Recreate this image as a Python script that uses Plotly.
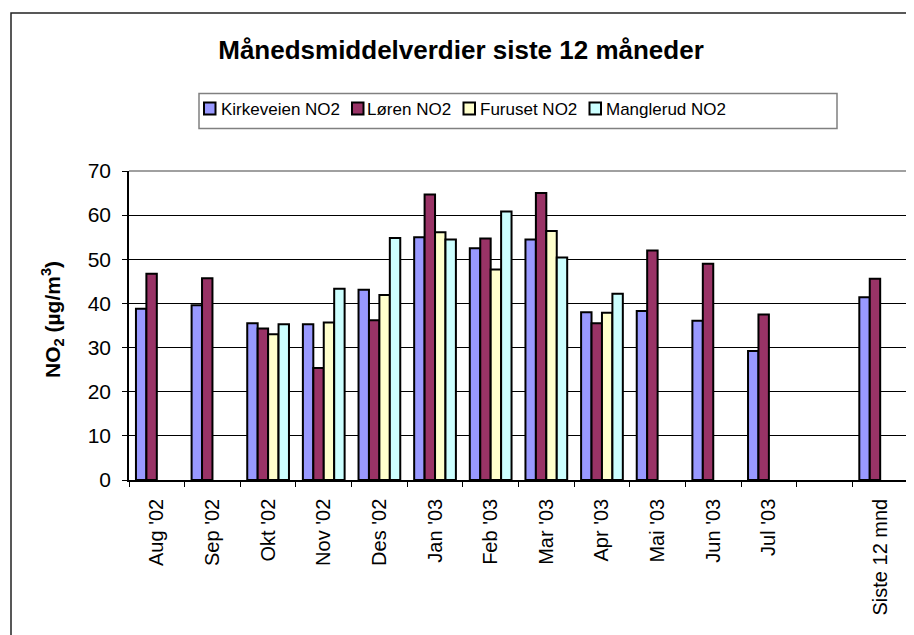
import plotly.graph_objects as go

categories = ["Aug '02", "Sep '02", "Okt '02", "Nov '02", "Des '02", "Jan '03", "Feb '03",
              "Mar '03", "Apr '03", "Mai '03", "Jun '03", "Jul '03", " ", "Siste 12 mnd"]
kirkeveien = [38.8, 39.6, 35.5, 35.3, 43.1, 55.0, 52.5, 54.5, 38.0, 38.3, 36.1, 29.2, None, 41.4]
loren = [46.7, 45.7, 34.3, 25.4, 36.2, 64.7, 54.7, 65.0, 35.5, 52.0, 49.0, 37.5, None, 45.6]
furuset = [None, None, 33.0, 35.7, 41.9, 56.1, 47.7, 56.4, 37.9, None, None, None, None, None]
manglerud = [None, None, 35.3, 43.3, 54.8, 54.5, 60.8, 50.4, 42.2, None, None, None, None, None]

series_names = ["Kirkeveien NO2", "Løren NO2", "Furuset NO2", "Manglerud NO2"]
series_values = [kirkeveien, loren, furuset, manglerud]
series_colors = ["#9999FF", "#993366", "#FFFFCC", "#CCFFFF"]

# page has an 8px body margin; figure sized so it fills the 914x635 window
OFF = 8
W, H = 914 - OFF, 635 - OFF
L, R, T, B = 121, 6, 163, 155
pw, ph = W - L - R, H - T - B


def px_x(sx):
    return (sx - OFF - L) / pw


def px_y(sy):
    return (H - B - (sy - OFF)) / ph


fig = go.Figure()
for name, vals, col in zip(series_names, series_values, series_colors):
    fig.add_trace(go.Bar(
        x=categories, y=vals, name=name, showlegend=False,
        marker=dict(color=col, line=dict(color="#000000", width=2)),
    ))

font = "Arial, Liberation Sans, sans-serif"

shapes = [
    dict(type="line", xref="paper", yref="paper", x0=0, x1=1, y0=1, y1=1,
         line=dict(color="#808080", width=1.5)),
    dict(type="line", xref="paper", yref="paper", x0=1, x1=1, y0=0, y1=1,
         line=dict(color="#808080", width=1.5)),
    dict(type="rect", xref="paper", yref="paper", x0=px_x(11), x1=px_x(940),
         y0=px_y(13), y1=px_y(660), line=dict(color="#222222", width=1.5)),
    # legend box
    dict(type="rect", xref="paper", yref="paper", x0=px_x(199), x1=px_x(837),
         y0=px_y(93.5), y1=px_y(128.5), line=dict(color="#808080", width=1.5),
         fillcolor="white"),
]
annotations = [
    dict(text="<b>NO<sub>2</sub> (µg/m<sup>3</sup>)</b>", xref="paper", yref="paper",
         x=px_x(52), y=px_y(320), xanchor="center", yanchor="middle", textangle=-90,
         showarrow=False, font=dict(size=21, family=font, color="#000000")),
]

legend_sq_x = [204, 352, 463.5, 589.5]
legend_tx_x = [220.5, 367, 480, 606]
for name, col, sx, tx in zip(series_names, series_colors, legend_sq_x, legend_tx_x):
    shapes.append(dict(type="rect", xref="paper", yref="paper",
                       x0=px_x(sx), x1=px_x(sx + 11.5), y0=px_y(102.5), y1=px_y(114.5),
                       fillcolor=col, line=dict(color="#000000", width=2)))
    annotations.append(dict(text=name, xref="paper", yref="paper", x=px_x(tx), y=px_y(109.5),
                            xanchor="left", yanchor="middle", showarrow=False,
                            xshift=-2, font=dict(size=17, family=font, color="#000000")))

fig.update_layout(
    width=W, height=H,
    margin=dict(l=L, r=R, t=T, b=B, autoexpand=False),
    paper_bgcolor="white", plot_bgcolor="white",
    barmode="group", bargap=0.25, bargroupgap=0,
    font=dict(family=font, color="#000000"),
    title=dict(text="<b>Månedsmiddelverdier siste 12 måneder</b>",
               x=(461 - OFF) / W, xref="container", xanchor="center",
               y=1 - (50 - OFF) / H, yanchor="middle", font=dict(size=26, family=font)),
    showlegend=False,
    xaxis=dict(type="category", categoryorder="array", categoryarray=categories,
               tickson="boundaries", ticks="outside", ticklen=5, tickcolor="#000000",
               showline=True, linecolor="#000000", linewidth=1.5, showgrid=False,
               tickangle=-90, tickfont=dict(size=20, family=font),
               ticklabelstandoff=9, range=[-0.5, len(categories) - 0.5]),
    yaxis=dict(range=[0, 70], dtick=10, ticks="outside", ticklen=5, tickcolor="#000000",
               showline=True, linecolor="#000000", linewidth=1.5,
               showgrid=True, gridcolor="#000000", gridwidth=1, zeroline=False,
               tickfont=dict(size=21, family=font), ticklabelstandoff=7),
    annotations=annotations,
    shapes=shapes,
)

fig.write_html("out.html")
